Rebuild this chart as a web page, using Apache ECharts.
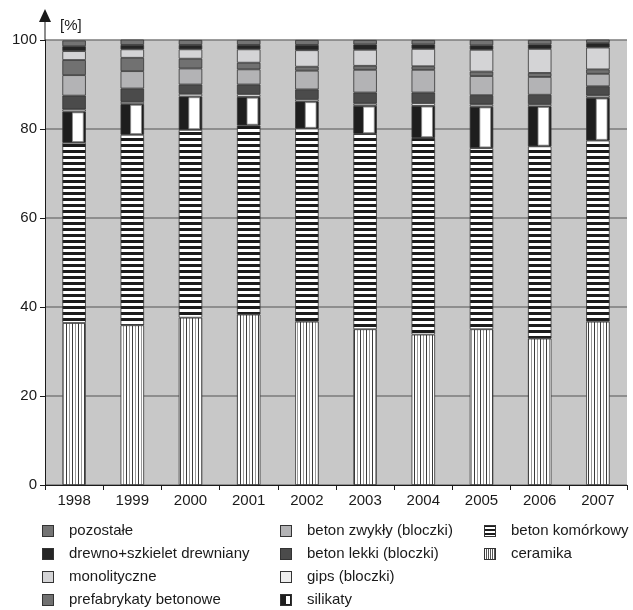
<!DOCTYPE html>
<html>
<head>
<meta charset="utf-8">
<script src="https://cdn.jsdelivr.net/npm/echarts@6/dist/echarts.min.js"></script>
<style>
  html, body { margin: 0; padding: 0; background: #fff; }
  #chart { width: 633px; height: 610px; }
</style>
</head>
<body>
<div id="chart"></div>
<script>
// Struktura materiałów ściennych, udział procentowy w latach 1998–2007
const years = ['1998', '1999', '2000', '2001', '2002', '2003', '2004', '2005', '2006', '2007'];
const yTicks = [0, 20, 40, 60, 80, 100];

// Stack order, bottom to top
const ceramika       = [36.4, 35.9, 37.6, 38.3, 36.7, 35.0, 33.8, 35.0, 32.9, 36.7];
const betonKomorkowy = [40.5, 42.8, 42.2, 42.5, 43.4, 43.9, 44.2, 40.7, 43.2, 40.7];
const silikaty       = [7.0, 6.9, 7.5, 6.4, 6.1, 6.3, 7.2, 9.3, 9.0, 9.6];
const gips           = [0.5, 0.5, 0.6, 0.6, 0.5, 0.5, 0.6, 0.5, 0.5, 0.5];
const betonLekki     = [3.1, 3.0, 2.1, 2.2, 2.2, 2.5, 2.4, 2.1, 2.1, 2.1];
const betonZwykly    = [4.6, 3.9, 3.6, 3.4, 4.2, 5.1, 5.1, 4.3, 4.0, 2.8];
const prefabrykaty   = [3.4, 3.0, 2.2, 1.5, 0.9, 0.9, 0.8, 1.0, 0.9, 1.0];
const monolityczne   = [2.0, 1.9, 2.1, 3.0, 3.7, 3.6, 3.9, 4.9, 5.4, 4.9];
const drewno         = [1.1, 1.0, 1.0, 1.0, 1.2, 1.2, 1.0, 1.0, 1.0, 1.0];
const pozostale      = [1.3, 1.2, 1.1, 1.1, 1.1, 1.0, 1.0, 1.2, 1.0, 0.8];

const FONT = '"Liberation Sans", Arial, Helvetica, sans-serif';
const BAR_W = 23.5;
const EDGE = '#333333';
const GRID = { left: 45, right: 6, top: 40, bottom: 125 };

function makeCanvas(w, h, draw) {
  const c = document.createElement('canvas');
  c.width = w; c.height = h;
  draw(c.getContext('2d'));
  return c;
}

// fill patterns
const stripesH = makeCanvas(4, 6, ctx => {
  ctx.fillStyle = '#ffffff'; ctx.fillRect(0, 0, 4, 6);
  ctx.fillStyle = '#1c1c1c'; ctx.fillRect(0, 0, 4, 3);
});
const stripesV = makeCanvas(6, 4, ctx => {
  ctx.fillStyle = '#ffffff'; ctx.fillRect(0, 0, 6, 4);
  ctx.fillStyle = '#3a3a3a'; ctx.fillRect(0, 0, 1, 4);
  ctx.fillStyle = '#9a9a9a'; ctx.fillRect(3, 0, 1, 4);
});

// legend icons
const ICON = 12;
function iconUrl(draw) {
  return 'image://' + makeCanvas(ICON, ICON, ctx => {
    draw(ctx);
    ctx.strokeStyle = EDGE; ctx.lineWidth = 1;
    ctx.strokeRect(0.5, 0.5, ICON - 1, ICON - 1);
  }).toDataURL();
}
const solidIcon = color => iconUrl(ctx => { ctx.fillStyle = color; ctx.fillRect(0, 0, ICON, ICON); });

const series = [];
function addBar(name, data, color) {
  series.push({
    name, type: 'bar', stack: 'total', data, barWidth: BAR_W,
    itemStyle: { color, borderColor: EDGE, borderWidth: 0.8 },
    emphasis: { disabled: true }
  });
}

addBar('ceramika', ceramika, { image: stripesV, repeat: 'repeat' });
addBar('beton komórkowy', betonKomorkowy, { image: stripesH, repeat: 'repeat' });
addBar('silikaty', silikaty, '#1e1e1e');
addBar('gips (bloczki)', gips, '#eeeeee');
addBar('beton lekki (bloczki)', betonLekki, '#4b4b4b');
addBar('beton zwykły (bloczki)', betonZwykly, '#b3b3b5');
addBar('prefabrykaty betonowe', prefabrykaty, '#717171');
addBar('monolityczne', monolityczne, '#d4d4d6');
addBar('drewno+szkielet drewniany', drewno, '#252525');
addBar('pozostałe', pozostale, '#747474');

// white inner panel of the "silikaty" segments
const silikatyPanel = years.map((y, i) => {
  const base = ceramika[i] + betonKomorkowy[i];
  return [i, base, base + silikaty[i]];
});
series.push({
  type: 'custom', z: 5, silent: true,
  data: silikatyPanel,
  encode: { x: 0, y: [1, 2] },
  renderItem(params, api) {
    const i = api.value(0);
    const lo = api.coord([i, api.value(1)]);
    const hi = api.coord([i, api.value(2)]);
    const left = lo[0] - BAR_W / 2;
    return {
      type: 'rect',
      shape: { x: left + BAR_W * 0.43, y: hi[1] + 1.2, width: BAR_W * 0.46, height: lo[1] - hi[1] - 2.4 },
      style: { fill: '#ffffff', stroke: '#8c8c8c', lineWidth: 0.8 }
    };
  }
});

const legendText = { fontFamily: FONT, fontSize: 15, color: '#1a1a1a', lineHeight: 16, padding: [0, 0, 0, 10] };
function legendCol(left, items) {
  return {
    orient: 'vertical', left, top: 523, height: 90, padding: 0,
    itemWidth: ICON, itemHeight: ICON, itemGap: 7,
    selectedMode: false, textStyle: legendText, data: items
  };
}

const option = {
  animation: false,
  backgroundColor: '#ffffff',
  grid: { ...GRID, show: true, backgroundColor: '#c8c8c8', borderWidth: 0 },
  xAxis: {
    type: 'category', data: years,
    axisLine: { lineStyle: { color: '#1a1a1a', width: 1 } },
    axisTick: { show: true, length: 5, lineStyle: { color: '#1a1a1a' } },
    axisLabel: { fontFamily: FONT, fontSize: 15, color: '#1a1a1a', margin: 8 }
  },
  yAxis: {
    type: 'value', min: yTicks[0], max: yTicks[yTicks.length - 1], interval: 20,
    axisLine: { show: true, lineStyle: { color: '#1a1a1a', width: 1 } },
    axisTick: { show: true, length: 5, lineStyle: { color: '#1a1a1a' } },
    axisLabel: { fontFamily: FONT, fontSize: 15, color: '#1a1a1a', margin: 8 },
    splitLine: { show: true, lineStyle: { color: '#7b7b7b', width: 1.5 } }
  },
  legend: [
    legendCol(42, [
      { name: 'pozostałe', icon: solidIcon('#747474') },
      { name: 'drewno+szkielet drewniany', icon: solidIcon('#252525') },
      { name: 'monolityczne', icon: solidIcon('#d4d4d6') },
      { name: 'prefabrykaty betonowe', icon: solidIcon('#717171') }
    ]),
    legendCol(280, [
      { name: 'beton zwykły (bloczki)', icon: solidIcon('#b3b3b5') },
      { name: 'beton lekki (bloczki)', icon: solidIcon('#4b4b4b') },
      { name: 'gips (bloczki)', icon: solidIcon('#eeeeee') },
      { name: 'silikaty', icon: iconUrl(ctx => {
          ctx.fillStyle = '#1e1e1e'; ctx.fillRect(0, 0, ICON, ICON);
          ctx.fillStyle = '#ffffff'; ctx.fillRect(6, 2, 4, ICON - 4);
        }) }
    ]),
    legendCol(484, [
      { name: 'beton komórkowy', icon: iconUrl(ctx => {
          ctx.fillStyle = '#ffffff'; ctx.fillRect(0, 0, ICON, ICON);
          ctx.fillStyle = '#1c1c1c';
          for (let y = 0; y < ICON; y += 4) ctx.fillRect(0, y, ICON, 2);
        }) },
      { name: 'ceramika', icon: iconUrl(ctx => {
          ctx.fillStyle = '#ffffff'; ctx.fillRect(0, 0, ICON, ICON);
          ctx.fillStyle = '#555555';
          for (let x = 2; x < ICON; x += 2) ctx.fillRect(x, 0, 1, ICON);
        }) }
    ])
  ],
  graphic: [
    // y-axis extension with arrow head
    { type: 'line', shape: { x1: GRID.left, y1: GRID.top, x2: GRID.left, y2: 20 },
      style: { stroke: '#1a1a1a', lineWidth: 1 }, silent: true },
    { type: 'polygon', shape: { points: [[GRID.left - 6, 22], [GRID.left + 6, 22], [GRID.left, 9]] },
      style: { fill: '#1a1a1a' }, silent: true },
    { type: 'text', left: 60, top: 18,
      style: { text: '[%]', fontFamily: FONT, fontSize: 15, fill: '#1a1a1a' }, silent: true }
  ],
  series
};

const chart = echarts.init(document.getElementById('chart'), null, { renderer: 'canvas' });
chart.setOption(option);
</script>
</body>
</html>
